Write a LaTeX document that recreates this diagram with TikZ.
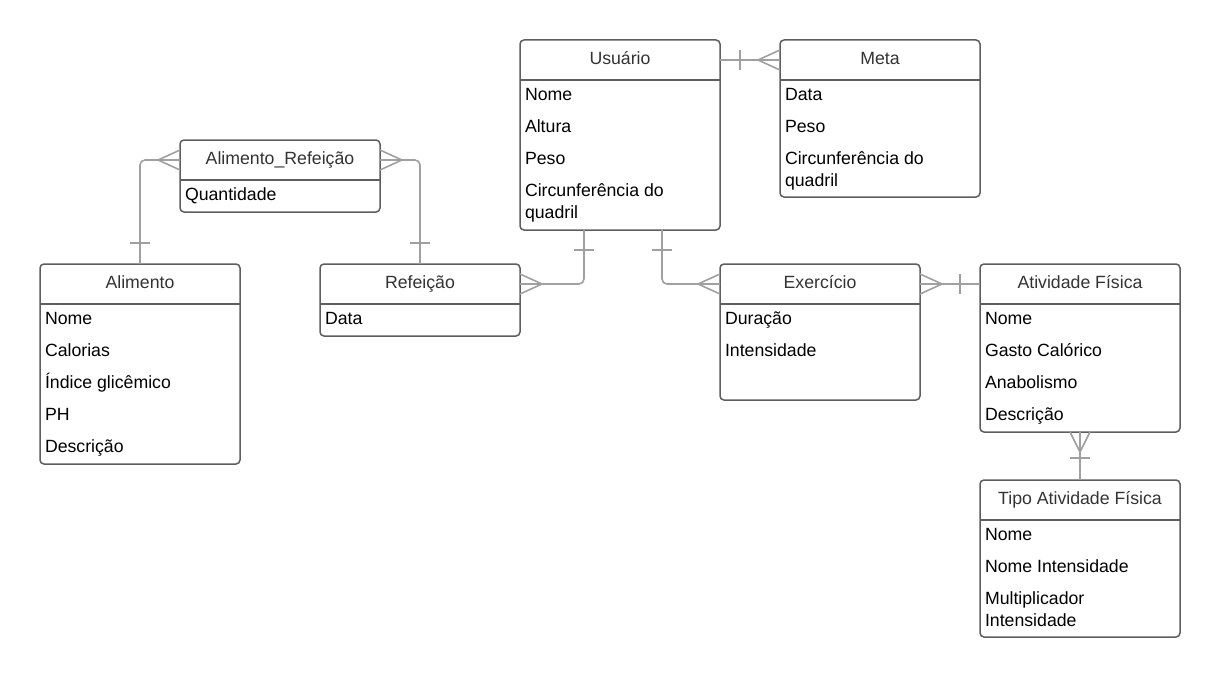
\documentclass[tikz,border=0pt]{standalone}
\usepackage{fontspec}
\setmainfont{Liberation Sans}
\definecolor{bord}{HTML}{5E5E5E}
\definecolor{conncol}{HTML}{A0A0A0}
\definecolor{ttl}{HTML}{333333}
\tikzset{
  ebox/.style={draw=bord, line width=1.5pt, rounded corners=4pt, fill=white,
    minimum width=200pt, inner sep=0pt, outer sep=0pt, anchor=north west},
  ehead/.style={minimum width=200pt, minimum height=40pt, inner sep=0pt, outer sep=0pt,
    anchor=north west, text=ttl, font=\fontsize{17.7}{22}\selectfont,
    text height=12pt, text depth=4pt},
  hline/.style={draw=bord, line width=1.5pt},
  attr/.style={anchor=base west, inner sep=0pt, outer sep=0pt, text=black,
    font=\fontsize{17.7}{22}\selectfont, align=left},
  conn/.style={draw=conncol, line width=1.6pt},
  rconn/.style={conn, rounded corners=5pt},
}
\newcommand\erent[5]{%
  \node[ebox, minimum height=#4pt] (#1) at (#2,#3) {};
  \node[ehead] (#1H) at (#2,#3) {#5};
  \draw[hline] (#1H.south west) -- (#1H.south east);
}
\begin{document}
\begin{tikzpicture}[x=1pt,y=-1pt]
\useasboundingbox[fill=white] (0,0) rectangle (1220,677);

% entities
\erent{usuario}{520}{40}{190}{Usuário}
\node[attr] (usuario1) at (525,100) {Nome};
\node[attr] (usuario2) at (525,132) {Altura};
\node[attr] (usuario3) at (525,164) {Peso};
\node[attr] (usuario4) at (525,218) {Circunferência do\\quadril};

\erent{meta}{780}{40}{157}{Meta}
\node[attr] (meta1) at (785,100) {Data};
\node[attr] (meta2) at (785,132) {Peso};
\node[attr] (meta3) at (785,186) {Circunferência do\\quadril};

\erent{ar}{180}{140}{72}{Alimento\_Refeição}
\node[attr] (ar1) at (185,200) {Quantidade};

\erent{alimento}{40}{264}{200}{Alimento}
\node[attr] (alimento1) at (45,324) {Nome};
\node[attr] (alimento2) at (45,356) {Calorias};
\node[attr] (alimento3) at (45,388) {Índice glicêmico};
\node[attr] (alimento4) at (45,420) {PH};
\node[attr] (alimento5) at (45,452) {Descrição};

\erent{refeicao}{320}{264}{72}{Refeição}
\node[attr] (refeicao1) at (325,324) {Data};

\erent{exercicio}{720}{264}{136}{Exercício}
\node[attr] (exercicio1) at (725,324) {Duração};
\node[attr] (exercicio2) at (725,356) {Intensidade};

\erent{atividade}{980}{264}{168}{Atividade Física}
\node[attr] (atividade1) at (985,324) {Nome};
\node[attr] (atividade2) at (985,356) {Gasto Calórico};
\node[attr] (atividade3) at (985,388) {Anabolismo};
\node[attr] (atividade4) at (985,420) {Descrição};

\erent{tipo}{980}{480}{157}{Tipo Atividade Física}
\node[attr] (tipo1) at (985,540) {Nome};
\node[attr] (tipo2) at (985,572) {Nome Intensidade};
\node[attr] (tipo3) at (985,626) {Multiplicador\\Intensidade};

% Usuario - Meta
\draw[conn] (usuarioH.east) -- (metaH.west);
\draw[conn] ([xshift=20pt]usuarioH.east) ++(0,-10) -- ++(0,20);
\draw[conn] ([xshift=-22pt]metaH.west) -- ++(22,-10) ([xshift=-22pt]metaH.west) -- ++(22,10);

% Alimento_Refeicao - Alimento
\draw[rconn] (arH.west) -| (alimento.north);
\draw[conn] ([yshift=21pt]alimento.north) ++(-10,0) -- ++(20,0);
\draw[conn] ([xshift=-22pt]arH.west) -- ++(22,-10) ([xshift=-22pt]arH.west) -- ++(22,10);

% Alimento_Refeicao - Refeicao
\draw[rconn] (arH.east) -| (refeicao.north);
\draw[conn] ([yshift=21pt]refeicao.north) ++(-10,0) -- ++(20,0);
\draw[conn] ([xshift=22pt]arH.east) -- ++(-22,-10) ([xshift=22pt]arH.east) -- ++(-22,10);

% Usuario - Refeicao
\draw[rconn] ([xshift=64pt]usuario.south west) |- (refeicaoH.east);
\draw[conn] ([xshift=64pt,yshift=-20pt]usuario.south west) ++(-10,0) -- ++(20,0);
\draw[conn] ([xshift=22pt]refeicaoH.east) -- ++(-22,-10) ([xshift=22pt]refeicaoH.east) -- ++(-22,10);

% Usuario - Exercicio
\draw[rconn] ([xshift=142pt]usuario.south west) |- (exercicioH.west);
\draw[conn] ([xshift=142pt,yshift=-20pt]usuario.south west) ++(-10,0) -- ++(20,0);
\draw[conn] ([xshift=-22pt]exercicioH.west) -- ++(22,-10) ([xshift=-22pt]exercicioH.west) -- ++(22,10);

% Exercicio - Atividade
\draw[conn] (exercicioH.east) -- (atividadeH.west);
\draw[conn] ([xshift=22pt]exercicioH.east) -- ++(-22,-10) ([xshift=22pt]exercicioH.east) -- ++(-22,10);
\draw[conn] ([xshift=-20pt]atividadeH.west) ++(0,-10) -- ++(0,20);

% Atividade - Tipo
\draw[conn] (atividade.south) -- (tipo.north);
\draw[conn] ([yshift=-20pt]atividade.south) -- ++(-10,-20) ([yshift=-20pt]atividade.south) -- ++(10,-20);
\draw[conn] ([yshift=22pt]tipo.north) ++(-10,0) -- ++(20,0);
\end{tikzpicture}
\end{document}
